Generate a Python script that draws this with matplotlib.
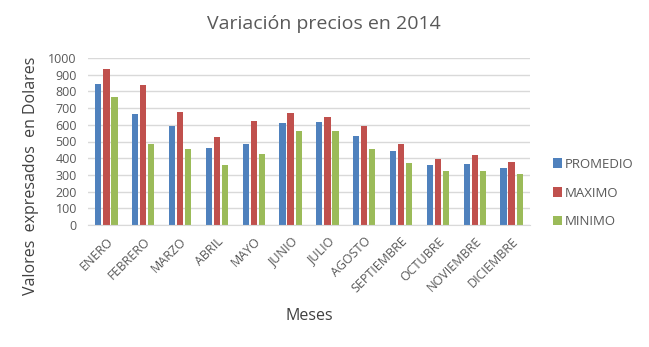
import matplotlib
matplotlib.use("Agg")
import matplotlib.pyplot as plt
import numpy as np

meses = ["ENERO", "FEBRERO", "MARZO", "ABRIL", "MAYO", "JUNIO", "JULIO",
         "AGOSTO", "SEPTIEMBRE", "OCTUBRE", "NOVIEMBRE", "DICIEMBRE"]
promedio = [844, 664, 592, 460, 484, 612, 614, 532, 442, 360, 364, 342]
maximo = [934, 836, 676, 526, 620, 668, 646, 592, 488, 398, 418, 380]
minimo = [766, 488, 456, 358, 426, 560, 560, 458, 370, 324, 324, 308]
y_ticks = list(range(0, 1001, 100))

plt.rcParams['font.family'] = ['Open Sans', 'DejaVu Sans']
text_color = "#595959"

fig = plt.figure(figsize=(6.49, 3.47), dpi=100)
ax = fig.add_axes([88 / 649, 1 - 225 / 347, 442 / 649, 167 / 347])

x = np.arange(len(meses))
w = 0.17
off = 0.22
ax.bar(x - off, promedio, w, color="#4F81BD", label="PROMEDIO")
ax.bar(x, maximo, w, color="#C0504D", label="MAXIMO")
ax.bar(x + off, minimo, w, color="#9BBB59", label="MINIMO")

ax.set_xlim(-0.5, len(meses) - 0.5)
ax.set_ylim(0, 1000)
ax.set_yticks(y_ticks)
ax.yaxis.grid(True, color="#D9D9D9", linewidth=1)
ax.set_axisbelow(True)
for s in ["top", "right", "left"]:
    ax.spines[s].set_visible(False)
ax.spines["bottom"].set_color("#D9D9D9")
ax.tick_params(axis="both", length=0, labelsize=9, colors=text_color)
ax.tick_params(axis="y", pad=8)
ax.set_xticks(x)
ax.set_xticklabels(meses, rotation=45, ha="right", rotation_mode="anchor")
ax.tick_params(axis="x", pad=7)

fig.text(324 / 649, 1 - 24 / 347, "Variación precios en 2014", ha="center",
         va="center", fontsize=14, color=text_color)
fig.text(31 / 649, 1 - 176 / 347, "Valores  expresados  en Dolares", rotation=90,
         ha="center", va="center", fontsize=11.5, color="#404040")
fig.text(309 / 649, 1 - 316 / 347, "Meses", ha="center", va="center",
         fontsize=11.5, color="#404040")

leg = fig.legend(loc="center left", bbox_to_anchor=(541 / 649, 1 - 193 / 347),
                 frameon=False, fontsize=9.5, handlelength=0.7, handleheight=0.7,
                 handletextpad=0.2, labelspacing=1.2)
for t in leg.get_texts():
    t.set_color(text_color)

fig.savefig("out.png", dpi=100)
